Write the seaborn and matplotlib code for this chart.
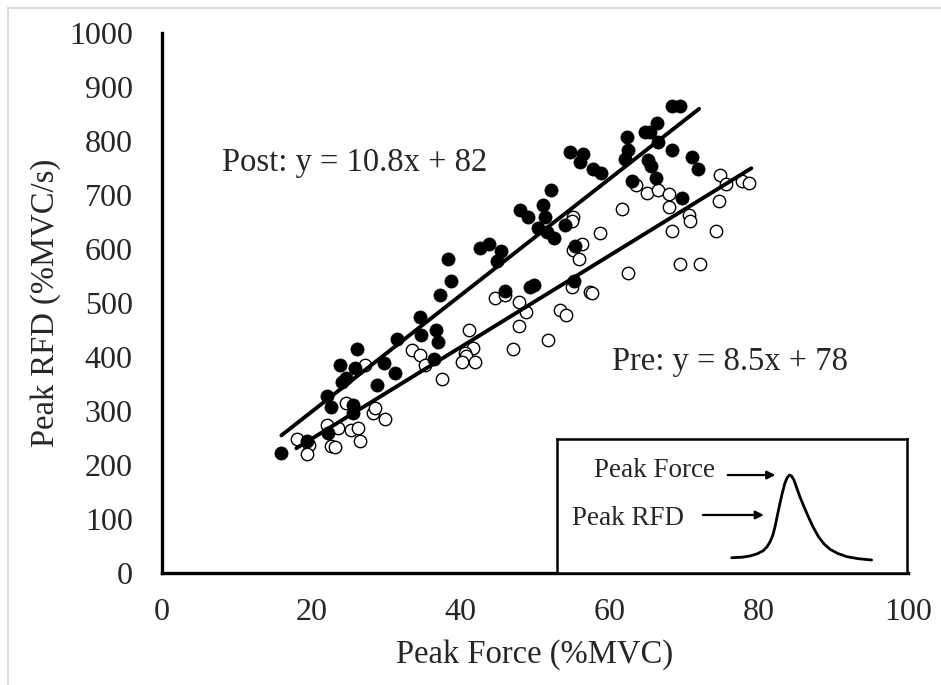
import numpy as np
import pandas as pd
import matplotlib
matplotlib.use("Agg")
import matplotlib.pyplot as plt
import seaborn as sns
from matplotlib.patches import Rectangle

# Post (filled) points: peak force (%MVC), peak RFD (%MVC/s)
post_force = [15.9, 19.4, 22.2, 22.1, 22.7, 23.9, 24.1, 24.7, 26.1, 25.9, 25.6, 25.6,
              28.8, 29.7, 31.2, 31.5, 34.6, 34.7, 36.7, 37.0, 36.4, 37.3, 38.7, 38.4,
              42.6, 43.8, 45.5, 44.9, 46.0, 49.3, 49.9, 48.0, 49.1, 51.1, 51.3, 50.4,
              51.6, 52.5, 52.2, 54.0, 55.4, 55.2, 54.7, 56.5, 56.0, 57.8, 58.9, 63.0,
              68.3, 69.4, 66.3, 64.7, 65.4, 62.3, 62.5, 62.1, 66.5, 68.3, 71.0, 71.9,
              65.2, 65.6, 66.2, 69.7]
post_rfd = [223, 245, 260, 328, 308, 385, 354, 361, 414, 379, 311, 296,
            348, 389, 371, 433, 475, 441, 450, 428, 397, 515, 541, 581,
            601, 610, 597, 577, 523, 529, 533, 672, 660, 681, 660, 638,
            632, 620, 709, 644, 606, 541, 780, 776, 762, 749, 741, 726,
            865, 865, 833, 817, 817, 808, 784, 766, 799, 784, 771, 748,
            765, 754, 731, 694]

# Pre (open) points
pre_force = [18.1, 19.7, 19.4, 22.1, 22.7, 23.2, 23.6, 24.7, 25.4, 26.3, 26.5, 27.2,
             28.3, 28.6, 29.9, 33.5, 34.6, 35.3, 37.6, 41.1, 41.7, 40.6, 40.8, 40.2,
             41.9, 44.6, 46.0, 47.8, 48.8, 53.4, 54.2, 47.8, 51.7, 47.1, 55.1, 54.9,
             58.7, 61.6, 56.3, 55.1, 55.9, 62.5, 54.9, 57.4, 57.7, 63.6, 65.0, 66.5,
             67.9, 67.9, 70.6, 70.8, 74.8, 75.6, 77.7, 78.7, 74.6, 74.3, 68.3, 69.4,
             72.1]
pre_rfd = [248, 237, 220, 274, 235, 233, 268, 315, 265, 268, 245, 385,
           296, 305, 285, 413, 404, 385, 359, 450, 416, 407, 401, 391,
           391, 509, 515, 502, 483, 487, 478, 458, 431, 414, 660, 651,
           629, 675, 610, 598, 581, 555, 530, 521, 519, 719, 703, 709,
           701, 678, 663, 652, 737, 720, 726, 722, 688, 634, 634, 573,
           572]

# regression lines (slope, intercept, x range)
post_fit = (10.8, 82, [16, 72])
pre_fit = (8.5, 78, [18, 79])

# inset schematic: force-time curve (arbitrary units)
curve_t = [49.9, 53.0, 55.1, 57.2, 58.9, 60.0, 60.9, 61.7, 62.3, 63.0, 63.7, 64.4,
           65.1, 65.7, 66.4, 67.0, 67.7, 68.5, 69.4, 70.6, 71.8, 73.2, 74.7, 76.3,
           78.0, 80.2, 82.8, 86.0, 89.9]
curve_f = [11.4, 11.8, 12.7, 14.3, 16.6, 19.5, 23.4, 28.5, 34.6, 43.5, 52.0, 60.0,
           66.9, 70.9, 73.1, 72.4, 69.4, 63.5, 56.9, 49.3, 42.0, 34.2, 27.1, 21.7,
           17.7, 14.6, 12.2, 10.7, 9.7]

sns.set_style("white")
plt.rcParams["font.family"] = ["Liberation Serif", "DejaVu Serif"]

fig = plt.figure(figsize=(9.41, 6.85), dpi=100)
ax = fig.add_axes([162 / 941, 1 - 573 / 685, 746 / 941, 540 / 685])

post = pd.DataFrame({"force": post_force, "rfd": post_rfd})
pre = pd.DataFrame({"force": pre_force, "rfd": pre_rfd})

sns.scatterplot(data=pre, x="force", y="rfd", ax=ax, s=80, color="white",
                edgecolor="black", linewidth=1.0, zorder=3)
sns.scatterplot(data=post, x="force", y="rfd", ax=ax, s=90, color="black",
                edgecolor="black", linewidth=0.5, zorder=4)

for slope, icpt, xr in (post_fit, pre_fit):
    xs = np.array(xr)
    ax.plot(xs, slope * xs + icpt, color="black", lw=2.8, zorder=5)

ax.set_xlim(0, 100)
ax.set_ylim(0, 1000)
ax.set_xticks(range(0, 101, 20))
ax.set_yticks(range(0, 1001, 100))
ax.tick_params(axis="both", length=0, labelsize=23)
ax.tick_params(axis="x", pad=18)
ax.tick_params(axis="y", pad=21)
sns.despine(ax=ax)
for sp in ("left", "bottom"):
    ax.spines[sp].set_linewidth(2.4)
    ax.spines[sp].set_color("black")

ax.set_xlabel("Peak Force (%MVC)", fontsize=23.5)
ax.set_ylabel("Peak RFD (%MVC/s)", fontsize=23.5)
ax.xaxis.set_label_coords(0.5, -0.122)
ax.yaxis.set_label_coords(-0.135, 0.5)

ax.text(8.0, 759, "Post: y = 10.8x + 82", fontsize=23.5, va="center", ha="left")
ax.text(60.3, 391, "Pre: y = 8.5x + 78", fontsize=23.5, va="center", ha="left")

# inset schematic
ins = fig.add_axes([557 / 941, 1 - 573 / 685, 350 / 941, 134 / 685])
ins.set_xlim(0, 100)
ins.set_ylim(0, 100)
ins.set_xticks([])
ins.set_yticks([])
for sp in ins.spines.values():
    sp.set_linewidth(1.8)
    sp.set_color("black")
sns.lineplot(x=curve_t, y=curve_f, ax=ins, color="black", lw=2.0, sort=False)
ins.text(45.1, 71.9, "Peak Force", fontsize=19.5, ha="right", va="baseline")
ins.text(36.2, 35.8, "Peak RFD", fontsize=19.5, ha="right", va="baseline")
ins.annotate("", xy=(63.2, 73.1), xytext=(48, 73.1),
             arrowprops=dict(arrowstyle="-|>", color="black", lw=1.6, mutation_scale=12))
ins.annotate("", xy=(59.9, 43.3), xytext=(40.9, 43.3),
             arrowprops=dict(arrowstyle="-|>", color="black", lw=1.6, mutation_scale=12))

# light frame around the picture
fig.patches.append(Rectangle((8 / 941, -0.05), 1.0, 1 - 8 / 685 + 0.05,
                             transform=fig.transFigure, fill=False,
                             edgecolor="#dcdcdc", lw=1.5))

fig.savefig("out.png", dpi=100)
